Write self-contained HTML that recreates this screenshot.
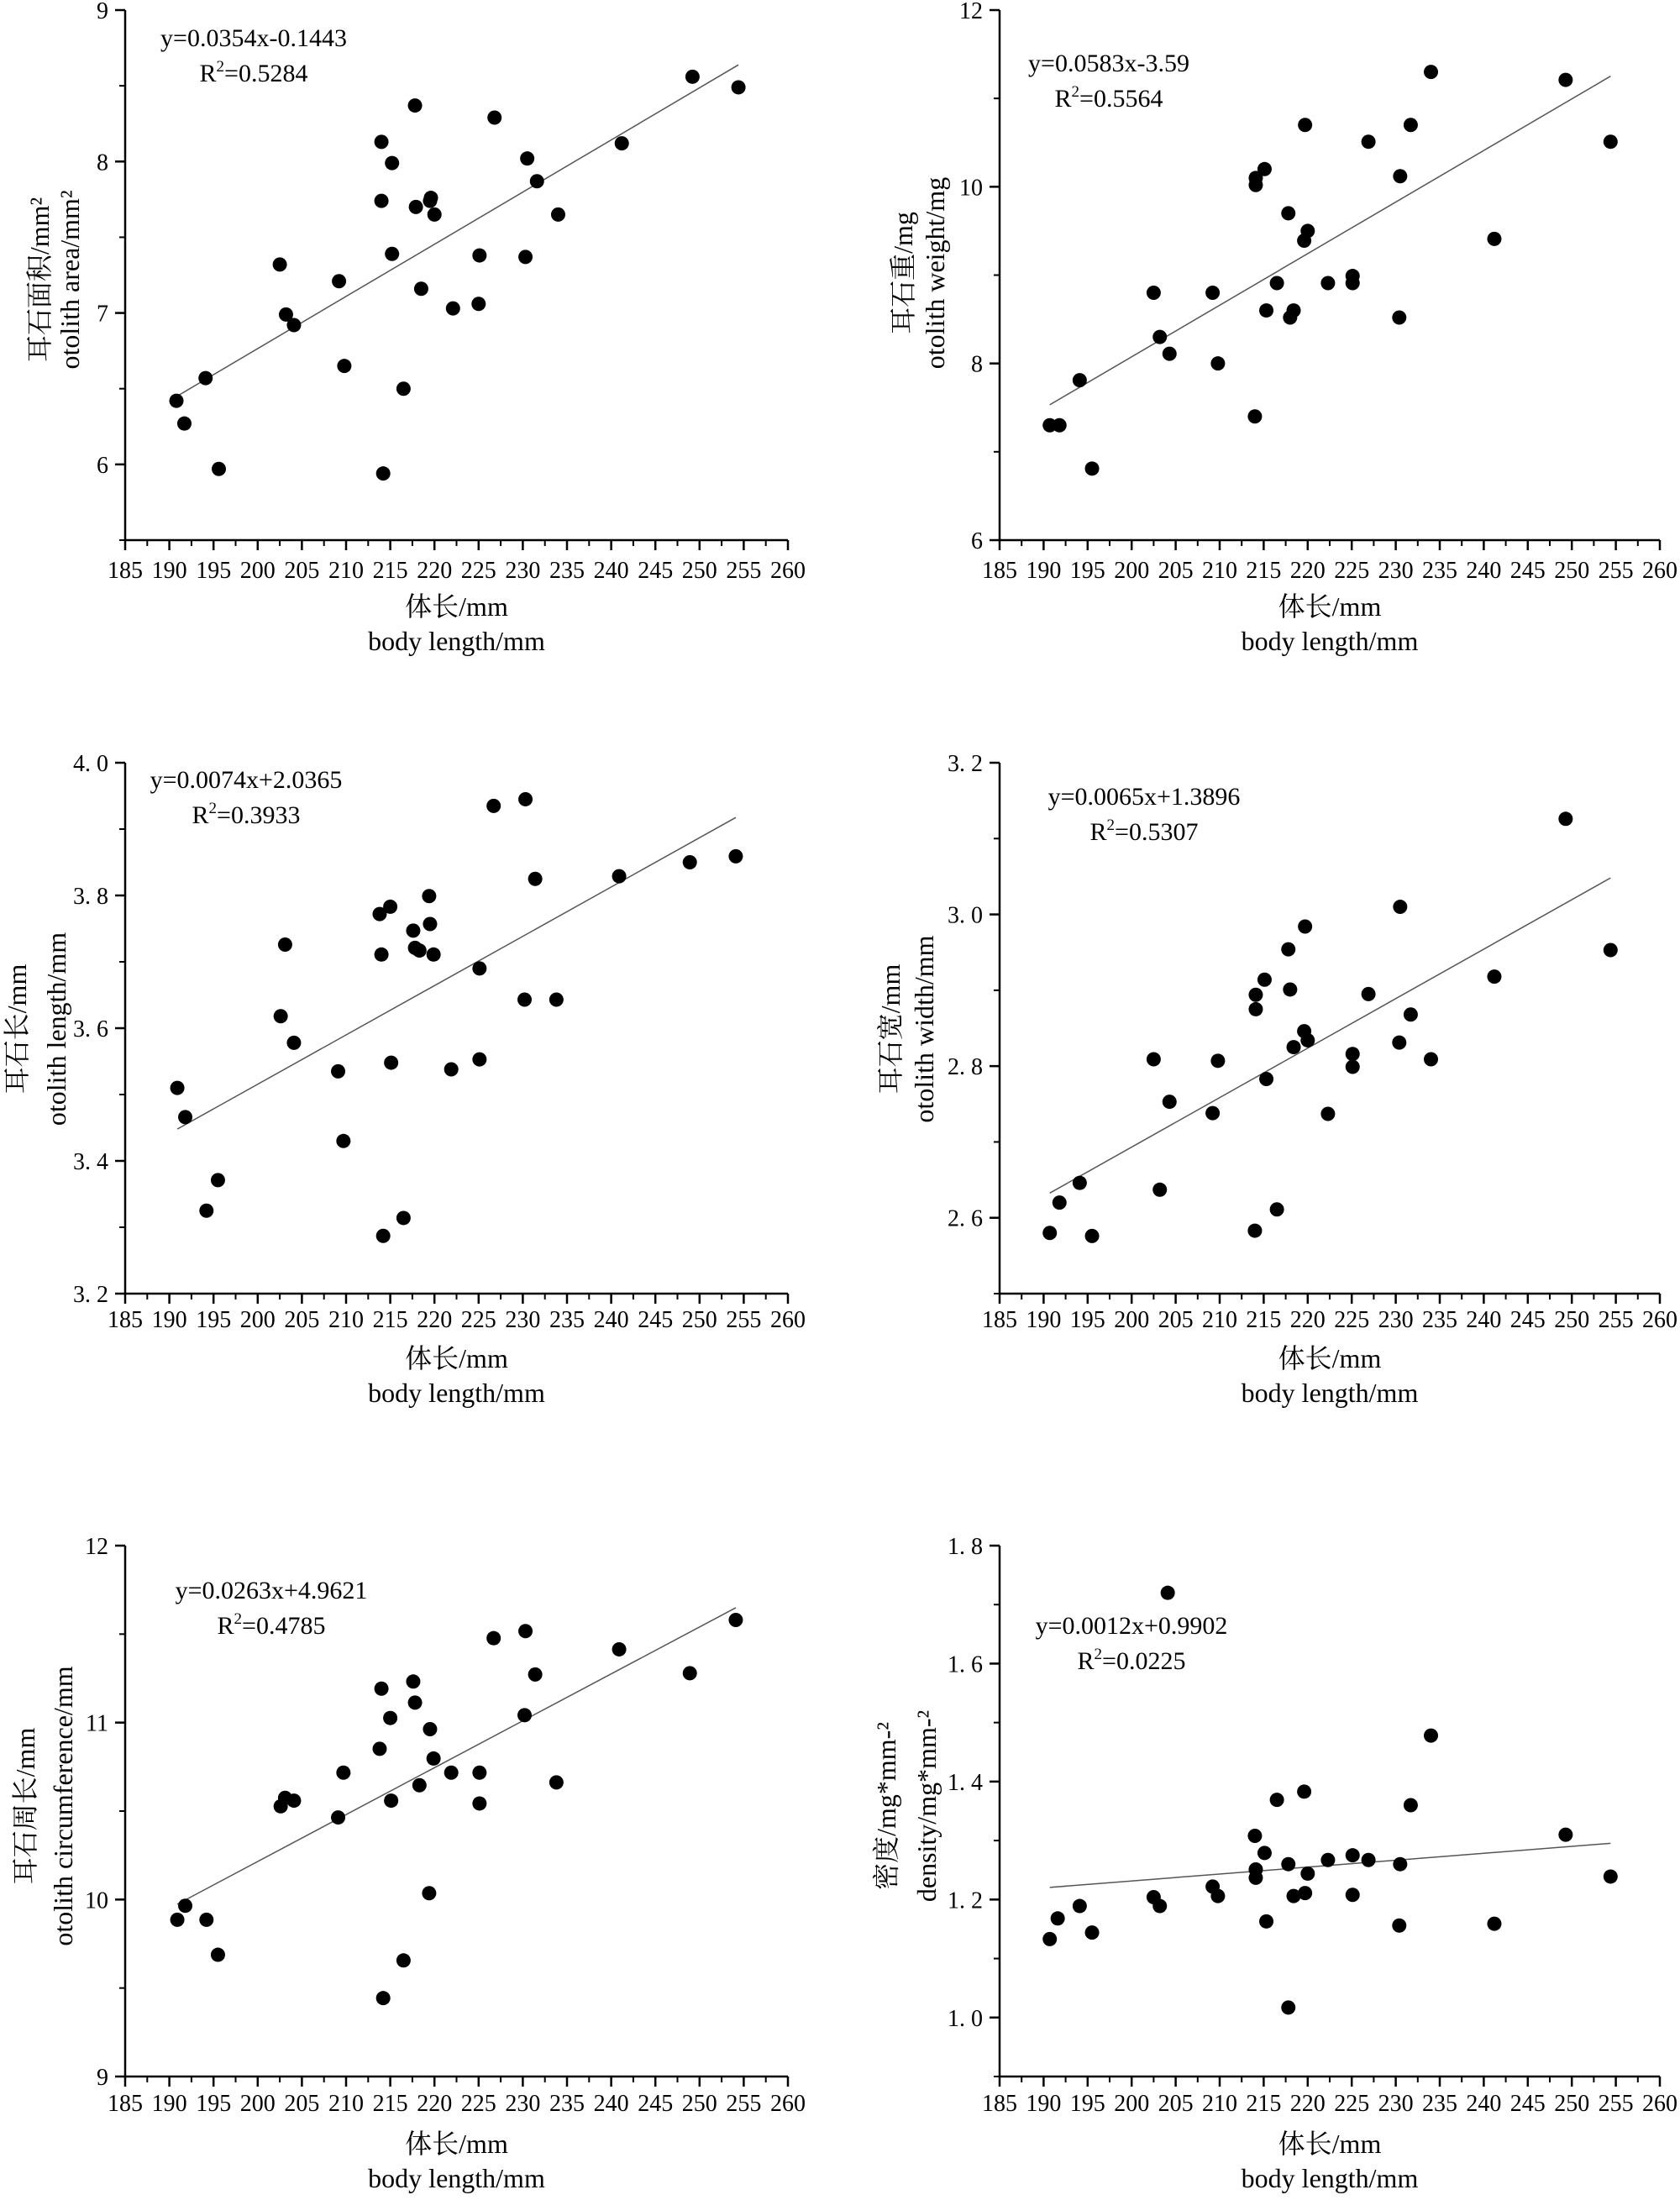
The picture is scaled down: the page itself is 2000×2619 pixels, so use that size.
<!DOCTYPE html>
<html><head><meta charset="utf-8">
<style>
html,body{margin:0;padding:0;background:#fff;}
svg{display:block;}
text{font-family:"Liberation Serif","Noto Serif CJK SC","Noto Sans CJK SC",serif;fill:#000;}
</style></head>
<body>
<svg id="fig" width="2000" height="2619" viewBox="0 0 2000 2619" xmlns="http://www.w3.org/2000/svg"></svg>
<script>
// ---- data (body length mm vs otolith metrics) ----
const xTickLabels = ["185","190","195","200","205","210","215","220","225","230","235","240","245","250","255","260"];
const areaX = [190.8,191.7,194.1,195.6,202.5,203.2,204.1,209.2,209.8,214.0,214.0,214.2,215.2,215.2,216.5,217.8,217.9,218.5,219.5,219.6,220.0,222.1,225.0,225.1,226.8,230.3,230.5,231.6,234.0,241.2,249.2,254.4];
const areaY = [6.42,6.27,6.57,5.97,7.32,6.99,6.92,7.21,6.65,8.13,7.74,5.94,7.99,7.39,6.50,8.37,7.70,7.16,7.74,7.76,7.65,7.03,7.06,7.38,8.29,7.37,8.02,7.87,7.65,8.12,8.56,8.49];
const weightX = [190.7,191.8,194.1,195.5,202.5,203.2,204.3,209.2,209.8,214.0,214.1,214.1,215.1,215.3,216.5,217.8,218.0,218.4,219.6,219.7,220.0,222.3,225.1,225.1,226.9,230.4,230.5,231.7,234.0,241.2,249.3,254.4];
const weightY = [7.30,7.30,7.81,6.81,8.80,8.30,8.11,8.80,8.00,7.40,10.02,10.10,10.20,8.60,8.91,9.70,8.52,8.60,9.39,10.70,9.50,8.91,8.99,8.91,10.51,8.52,10.12,10.70,11.30,9.41,11.21,10.51];
const lengthX = [190.9,191.8,194.2,195.5,202.6,203.1,204.1,209.1,209.7,213.8,214.0,214.2,215.0,215.1,216.5,217.6,217.8,218.3,219.4,219.5,219.9,221.9,225.1,225.1,226.7,230.2,230.3,231.4,233.8,240.9,248.9,254.1];
const lengthY = [3.510,3.466,3.325,3.371,3.618,3.726,3.578,3.535,3.430,3.772,3.711,3.287,3.783,3.548,3.314,3.747,3.721,3.717,3.799,3.757,3.711,3.538,3.690,3.553,3.935,3.643,3.945,3.825,3.643,3.829,3.850,3.859];
const widthX = weightX.slice();
const widthY = [2.580,2.620,2.646,2.576,2.809,2.637,2.753,2.738,2.807,2.583,2.875,2.894,2.914,2.783,2.611,2.954,2.901,2.825,2.846,2.984,2.834,2.737,2.799,2.816,2.895,2.831,3.010,2.868,2.809,2.918,3.126,2.953];
const circX = lengthX.slice();
const circY = [9.886,9.965,9.886,9.688,10.527,10.575,10.559,10.464,10.717,10.852,11.192,9.443,11.026,10.559,9.656,11.232,11.113,10.646,10.036,10.963,10.797,10.717,10.717,10.543,11.477,11.042,11.517,11.272,10.662,11.414,11.279,11.580];
const densX = [190.7,191.6,194.1,195.5,202.5,203.2,204.1,209.2,209.8,214.0,214.1,214.1,215.1,215.3,216.5,217.8,217.8,218.4,219.6,219.7,220.0,222.3,225.1,225.1,226.9,230.4,230.5,231.7,234.0,241.2,249.3,254.4];
const densY = [1.133,1.168,1.189,1.144,1.204,1.189,1.720,1.222,1.206,1.308,1.237,1.251,1.279,1.163,1.369,1.260,1.017,1.206,1.383,1.211,1.244,1.267,1.275,1.208,1.267,1.156,1.260,1.360,1.478,1.159,1.310,1.239];

const yTicksArea = ["6","7","8","9"];
const yTicksWeight = ["6","8","10","12"];
const yTicksLength = ["3.2","3.4","3.6","3.8","4.0"];
const yTicksWidth = ["2.6","2.8","3.0","3.2"];
const yTicksCirc = ["9","10","11","12"];
const yTicksDens = ["1.0","1.2","1.4","1.6","1.8"];

const NS = "http://www.w3.org/2000/svg";
const svg = document.getElementById('fig');
function mk(tag, attrs, parent){
  const e = document.createElementNS(NS, tag);
  for (const k in attrs) e.setAttribute(k, attrs[k]);
  (parent||svg).appendChild(e);
  return e;
}

const panels = [
  {id:'area', xs:areaX, ys:areaY, yt:yTicksArea, ymin:5.5, ymax:9, minor:0.5, L:149, R:938, T:12, B:643, spaced:false,
   cn:'耳石面积/mm²', en:'otolith area/mm²', tcx:[47,83], tcy:333, eq:'y=0.0354x-0.1443', r2:'0.5284', ex:302, ey:[45,87], lab:[678,722,763]},
  {id:'weight', xs:weightX, ys:weightY, yt:yTicksWeight, ymin:6, ymax:12, minor:1, L:1190, R:1976, T:12, B:643, spaced:false,
   cn:'耳石重/mg', en:'otolith weight/mg', tcx:[1075,1113], tcy:325, eq:'y=0.0583x-3.59', r2:'0.5564', ex:1320, ey:[75,117], lab:[678,722,763]},
  {id:'length', xs:lengthX, ys:lengthY, yt:yTicksLength, ymin:3.2, ymax:4.0, minor:0.1, L:149, R:938, T:908, B:1540, spaced:true,
   cn:'耳石长/mm', en:'otolith length/mm', tcx:[20,67], tcy:1225, eq:'y=0.0074x+2.0365', r2:'0.3933', ex:293, ey:[928,970], lab:[1570,1617,1658]},
  {id:'width', xs:widthX, ys:widthY, yt:yTicksWidth, ymin:2.5, ymax:3.2, minor:0.1, L:1190, R:1976, T:908, B:1540, spaced:true,
   cn:'耳石宽/mm', en:'otolith width/mm', tcx:[1060,1100], tcy:1225, eq:'y=0.0065x+1.3896', r2:'0.5307', ex:1362, ey:[948,990], lab:[1570,1617,1658]},
  {id:'circumference', xs:circX, ys:circY, yt:yTicksCirc, ymin:9, ymax:12, minor:0.5, L:149, R:938, T:1840, B:2472, spaced:false,
   cn:'耳石周长/mm', en:'otolith circumference/mm', tcx:[30,75], tcy:2150, eq:'y=0.0263x+4.9621', r2:'0.4785', ex:323, ey:[1893,1935], lab:[2503,2552,2593]},
  {id:'density', xs:densX, ys:densY, yt:yTicksDens, ymin:0.9, ymax:1.8, minor:0.1, L:1190, R:1976, T:1840, B:2472, spaced:true,
   cn:'密度/mg*mm-²', en:'density/mg*mm-²', tcx:[1055,1103], tcy:2150, eq:'y=0.0012x+0.9902', r2:'0.0225', ex:1347, ey:[1935,1977], lab:[2503,2552,2593]}
];

panels.forEach(p => {
  const g = mk('g', {});
  
  
  const xS = v => p.L + (v - 185) / 75 * (p.R - p.L);
  const yS = v => p.B - (v - p.ymin) / (p.ymax - p.ymin) * (p.B - p.T);

  const ax = mk('path', {d:`M${p.L},${p.T}V${p.B}H${p.R}`, fill:'none', stroke:'#000', 'stroke-width':2.5}, g);
  
  

  for (let i = 0; i < xTickLabels.length; i++) {
    const v = 185 + i * 5, x = xS(v);
    mk('line', {x1:x, y1:p.B, x2:x, y2:p.B+12, stroke:'#000', 'stroke-width':2.5}, g);
    if (i < xTickLabels.length - 1) {
      const xm = xS(v + 2.5);
      mk('line', {x1:xm, y1:p.B, x2:xm, y2:p.B+7, stroke:'#000', 'stroke-width':2}, g);
    }
    const t = mk('text', {x:x, y:p.lab[0]+10, 'font-size':28, 'text-anchor':'middle'}, g);
    t.textContent = xTickLabels[i];
    
    
  }
  for (let i = 0; i < p.yt.length; i++) {
    const v = parseFloat(p.yt[i]), y = yS(v);
    mk('line', {x1:p.L-12, y1:y, x2:p.L, y2:y, stroke:'#000', 'stroke-width':2.5}, g);
    const t = mk('text', {x:p.L-20, y:y+10, 'font-size':28, 'text-anchor':'end'}, g);
    t.textContent = p.spaced ? p.yt[i].replace('.', '. ') : p.yt[i];
    if (p.spaced) t.setAttribute('xml:space', 'preserve');
    
    
  }
  for (let v = p.ymin; v <= p.ymax + 1e-9; v += p.minor) {
    const y = yS(v);
    mk('line', {x1:p.L-7, y1:y, x2:p.L, y2:y, stroke:'#000', 'stroke-width':2}, g);
  }

  const n = p.xs.length;
  let sx=0, sy=0, sxx=0, sxy=0;
  for (let i=0;i<n;i++){ sx+=p.xs[i]; sy+=p.ys[i]; sxx+=p.xs[i]*p.xs[i]; sxy+=p.xs[i]*p.ys[i]; }
  const b = (n*sxy - sx*sy) / (n*sxx - sx*sx), a = (sy - b*sx)/n;
  const x0 = Math.min(...p.xs), x1 = Math.max(...p.xs);
  const tl = mk('line', {x1:xS(x0), y1:yS(a+b*x0), x2:xS(x1), y2:yS(a+b*x1), stroke:'#555', 'stroke-width':1.5}, g);
  
  

  for (let i=0;i<n;i++){
    const c = mk('circle', {cx:xS(p.xs[i]), cy:yS(p.ys[i]), r:8.5, fill:'#000'}, g);
    
    
  }

  const eq = mk('text', {x:p.ex, y:p.ey[0]+10, 'font-size':30, 'text-anchor':'middle'}, g);
  eq.textContent = p.eq;
  
  
  const r2 = mk('text', {x:p.ex, y:p.ey[1]+10, 'font-size':30, 'text-anchor':'middle'}, g);
  r2.innerHTML = 'R<tspan dy="-12" font-size="19">2</tspan><tspan dy="12">=' + p.r2 + '</tspan>';
  
  

  const xc = (p.L + p.R) / 2;
  const xt1 = mk('text', {x:xc, y:p.lab[1]+11, 'font-size':32, 'text-anchor':'middle'}, g);
  xt1.textContent = '体长/mm';
  
  
  const xt2 = mk('text', {x:xc, y:p.lab[2]+11, 'font-size':32, 'text-anchor':'middle'}, g);
  xt2.textContent = 'body length/mm';
  
  

  const yt1 = mk('text', {x:0, y:0, 'font-size':32, 'text-anchor':'middle', transform:`translate(${p.tcx[0]+11},${p.tcy}) rotate(-90)`}, g);
  yt1.textContent = p.cn;
  
  
  const yt2 = mk('text', {x:0, y:0, 'font-size':32, 'text-anchor':'middle', transform:`translate(${p.tcx[1]+11},${p.tcy}) rotate(-90)`}, g);
  yt2.textContent = p.en;
  
  
});
</script>
</body></html>
